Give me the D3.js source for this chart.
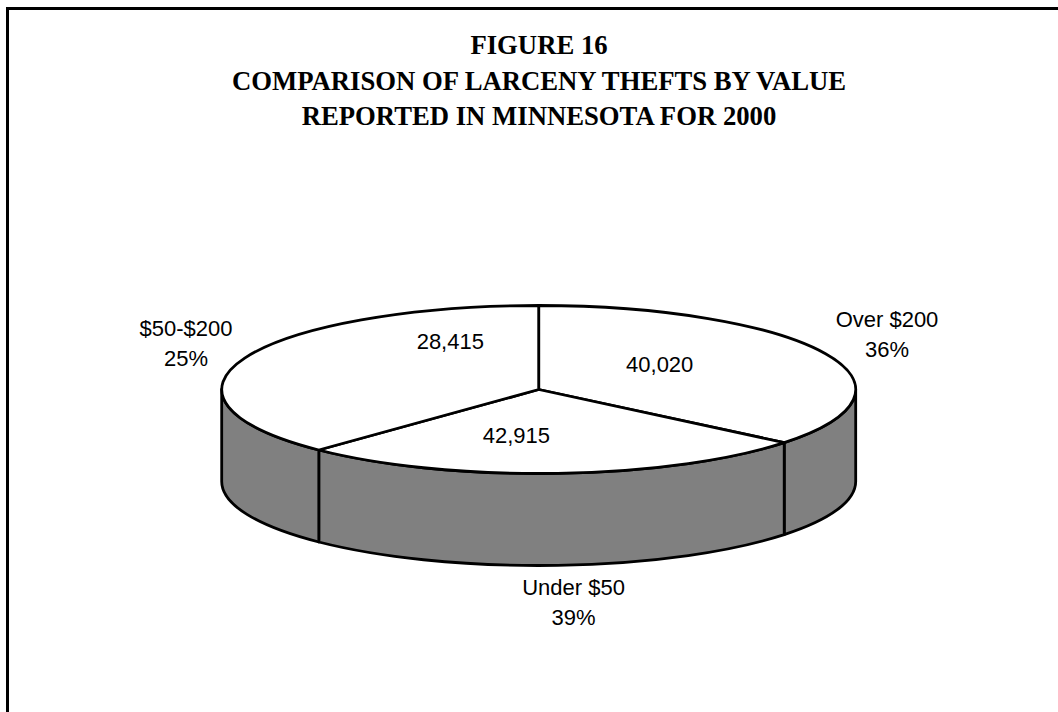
<!DOCTYPE html>
<html>
<head>
<meta charset="utf-8">
<title>Figure 16</title>
<script src="https://cdn.jsdelivr.net/npm/d3@7"></script>
<style>
    html, body { margin: 0; padding: 0; background: #fff; overflow: hidden; }
    svg { display: block; }
    .title { font-family: "Liberation Serif", serif; font-weight: bold; font-size: 26.7px; text-anchor: middle; fill: #000; }
    .label { font-family: "Liberation Sans", sans-serif; font-size: 22px; text-anchor: middle; fill: #000; }
</style>
</head>
<body>
<div id="chart"></div>
<script>
const titleLines = ["FIGURE 16", "COMPARISON OF LARCENY THEFTS BY VALUE", "REPORTED IN MINNESOTA FOR 2000"];

// clockwise from 12 o'clock
const categories = ["Over $200", "Under $50", "$50-$200"];
const counts = ["40,020", "42,915", "28,415"];
const percents = ["36%", "39%", "25%"];
// the slices as drawn do not follow the printed numbers, these are read off the picture
const drawnShares = [35.9, 26.3, 37.8];

const width = 1058;
const height = 712;

const cx = 538.7;
const cy = 389.5;
const rx = 317;
const ry = 84;
const depth = 92;

// where the texts sit, same order as categories
const countPos = [[659.7, 371.7], [516.4, 443], [450.3, 349]];
const outerPos = [[887, 327], [573.5, 595], [186, 336]];
const outerLeading = 30;

const svg = d3.select("#chart")
    .append("svg")
    .attr("width", width)
    .attr("height", height);

// frame runs off the page on the right and at the bottom
svg.append("path")
    .attr("d", `M7.5,${height} V8.5 H${width}`)
    .attr("fill", "none")
    .attr("stroke", "#000")
    .attr("stroke-width", 3);

svg.selectAll(".title")
    .data(titleLines)
    .enter()
    .append("text")
    .attr("class", "title")
    .attr("x", 539)
    .attr("y", (d, i) => 54 + i * 35.5)
    .text(d => d);

const pie = d3.pie().sort(null).value(d => d);
const slices = pie(drawnShares);

const px = a => cx + rx * Math.sin(a);
const py = a => cy - ry * Math.cos(a);

// front wall, only the part between 3 and 9 o'clock shows
const wallFrom = Math.PI / 2;
const wallTo = Math.PI * 1.5;

const walls = slices
    .map(s => [Math.max(s.startAngle, wallFrom), Math.min(s.endAngle, wallTo)])
    .filter(w => w[0] < w[1]);

svg.selectAll(".wall")
    .data(walls)
    .enter()
    .append("path")
    .attr("class", "wall")
    .attr("d", ([a0, a1]) => {
        const large = a1 - a0 > Math.PI ? 1 : 0;
        return `M${px(a0)},${py(a0)}`
            + `A${rx},${ry} 0 ${large} 1 ${px(a1)},${py(a1)}`
            + `L${px(a1)},${py(a1) + depth}`
            + `A${rx},${ry} 0 ${large} 0 ${px(a0)},${py(a0) + depth}Z`;
    })
    .attr("fill", "#808080")
    .attr("stroke", "#000")
    .attr("stroke-width", 2.8)
    .attr("stroke-linejoin", "round");

// top face: a plain d3 arc squashed into the ellipse
const arc = d3.arc().innerRadius(0).outerRadius(rx);

svg.append("g")
    .attr("transform", `translate(${cx},${cy}) scale(1,${ry / rx})`)
    .selectAll("path")
    .data(slices)
    .enter()
    .append("path")
    .attr("d", arc)
    .attr("fill", "#fff")
    .attr("stroke", "#000")
    .attr("stroke-width", 2.8)
    .attr("stroke-linejoin", "round")
    .attr("vector-effect", "non-scaling-stroke");

svg.selectAll(".count")
    .data(counts)
    .enter()
    .append("text")
    .attr("class", "label count")
    .attr("x", (d, i) => countPos[i][0])
    .attr("y", (d, i) => countPos[i][1])
    .text(d => d);

svg.selectAll(".category")
    .data(categories)
    .enter()
    .append("text")
    .attr("class", "label category")
    .attr("x", (d, i) => outerPos[i][0])
    .attr("y", (d, i) => outerPos[i][1])
    .text(d => d);

svg.selectAll(".percent")
    .data(percents)
    .enter()
    .append("text")
    .attr("class", "label percent")
    .attr("x", (d, i) => outerPos[i][0])
    .attr("y", (d, i) => outerPos[i][1] + outerLeading)
    .text(d => d);
</script>
</body>
</html>
